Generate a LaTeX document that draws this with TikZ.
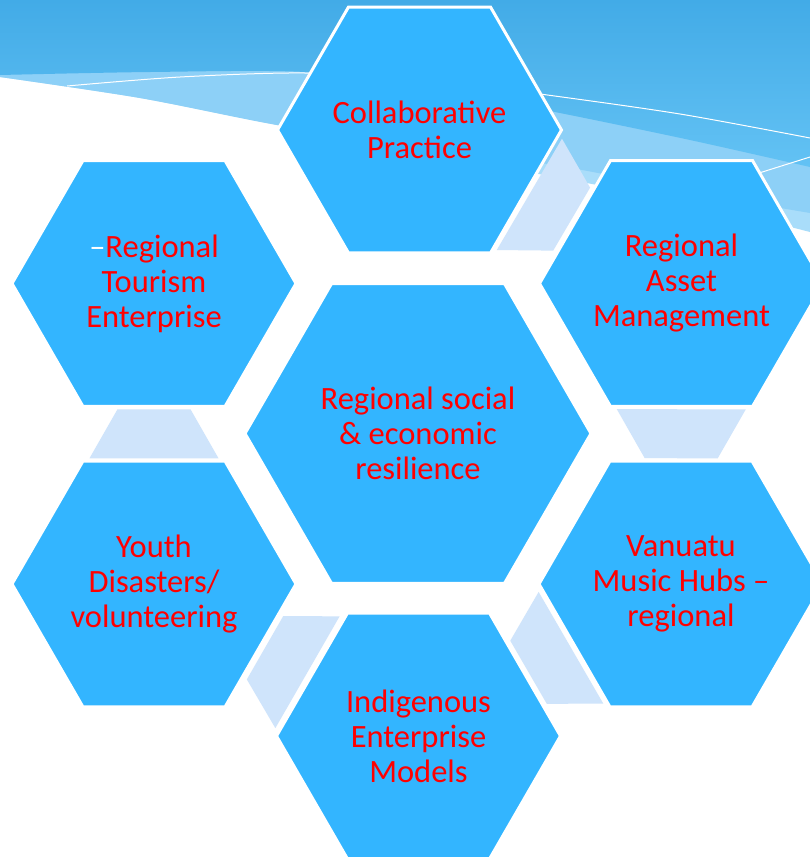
\documentclass[tikz,border=0pt]{standalone}
\usepackage{fontspec}
\setmainfont{Carlito}
\usetikzlibrary{shapes.geometric,calc}
\pgfdeclarelayer{back}
\pgfdeclarelayer{mid}
\pgfsetlayers{back,mid,main}
\definecolor{hexblue}{HTML}{33B5FF}
\definecolor{pale}{HTML}{CFE4FB}
\definecolor{skytop}{HTML}{42ABE7}
\definecolor{skybot}{HTML}{63C2F4}
\definecolor{bandA}{HTML}{8DD0F7}
\definecolor{bandB}{HTML}{A9DDFA}
\tikzset{
  hexnode/.style={regular polygon, regular polygon sides=6, fill=hexblue, draw=white,
    line width=3pt, inner sep=0pt, minimum size=284pt},
  bighex/.style={hexnode, minimum size=346pt},
  hextext/.style={text=red, align=center, inner sep=0pt,
    font=\fontsize{32.5}{35}\selectfont},
  connfill/.style={fill=pale},
  swooshline/.style={draw=white, line width=1pt},
}
\newcommand\hexlink[2]{%
  \path ($(#1)!0.5!(#2)$) coordinate (lkm);
  \path ($(lkm)!24.5pt!(#1)$) coordinate (lkf);
  \path ($(lkm)!24.5pt!(#2)$) coordinate (lkt);
  \fill[connfill] ($(lkf)!64.5pt!90:(lkm)$) -- ($(lkf)!64.5pt!-90:(lkm)$)
    -- ($(lkt)!36.5pt!90:(lkm)$) -- ($(lkt)!36.5pt!-90:(lkm)$) -- cycle;}
\begin{document}
\begin{tikzpicture}[x=1pt,y=-1pt]
\useasboundingbox (0,0) rectangle (810,857);
\begin{pgfonlayer}{back}
  \fill[white] (0,0) rectangle (810,857);
  \fill[bandB] (0,0) -- plot[smooth] coordinates {(0,77) (140,98) (277,125) (420,152) (560,178) (700,205) (810,232)} -- (810,0) -- cycle;
  \fill[bandA] (0,0) -- plot[smooth] coordinates {(0,77) (140,98) (277,125) (420,147) (560,166) (713,196) (810,213)} -- (810,0) -- cycle;
  \shade[top color=skytop, bottom color=skybot] (0,0) -- plot[smooth] coordinates {(0,75) (150,72) (305,72) (430,88) (560,113) (690,140) (810,167)} -- (810,0) -- cycle;
  \draw[swooshline] plot[smooth] coordinates {(67,86) (180,77) (305,73) (430,80) (540,94) (680,114) (810,138)};
  \draw[swooshline] (740,179) -- (810,157);
\end{pgfonlayer}

\node[hexnode] (collab) at (419.5,130) {};
\node[hexnode] (tourism) at (154,283.5) {};
\node[hexnode] (asset) at (681.5,283.5) {};
\node[bighex] (center) at (418,433.5) {};
\node[hexnode] (youth) at (154,584) {};
\node[hexnode] (vanuatu) at (681,584) {};
\node[hexnode] (indig) at (418.5,736) {};

\begin{pgfonlayer}{mid}
  \hexlink{collab}{asset}
  \hexlink{asset}{vanuatu}
  \hexlink{vanuatu}{indig}
  \hexlink{indig}{youth}
  \hexlink{youth}{tourism}
\end{pgfonlayer}

\node[hextext] (collabtxt) at (collab) {Collaborative\\Practice};
\node[hextext] (tourismtxt) at (tourism) {{\color{white}–}Regional\\Tourism\\Enterprise};
\node[hextext] (assettxt) at (asset) {Regional\\Asset\\Management};
\node[hextext] (centertxt) at (center) {Regional social\\\& economic\\resilience};
\node[hextext] (youthtxt) at (youth) {Youth\\Disasters/\\volunteering};
\node[hextext] (vanuatutxt) at (vanuatu) {Vanuatu\\Music Hubs –\\regional};
\node[hextext] (indigtxt) at (indig) {Indigenous\\Enterprise\\Models};
\end{tikzpicture}
\end{document}
